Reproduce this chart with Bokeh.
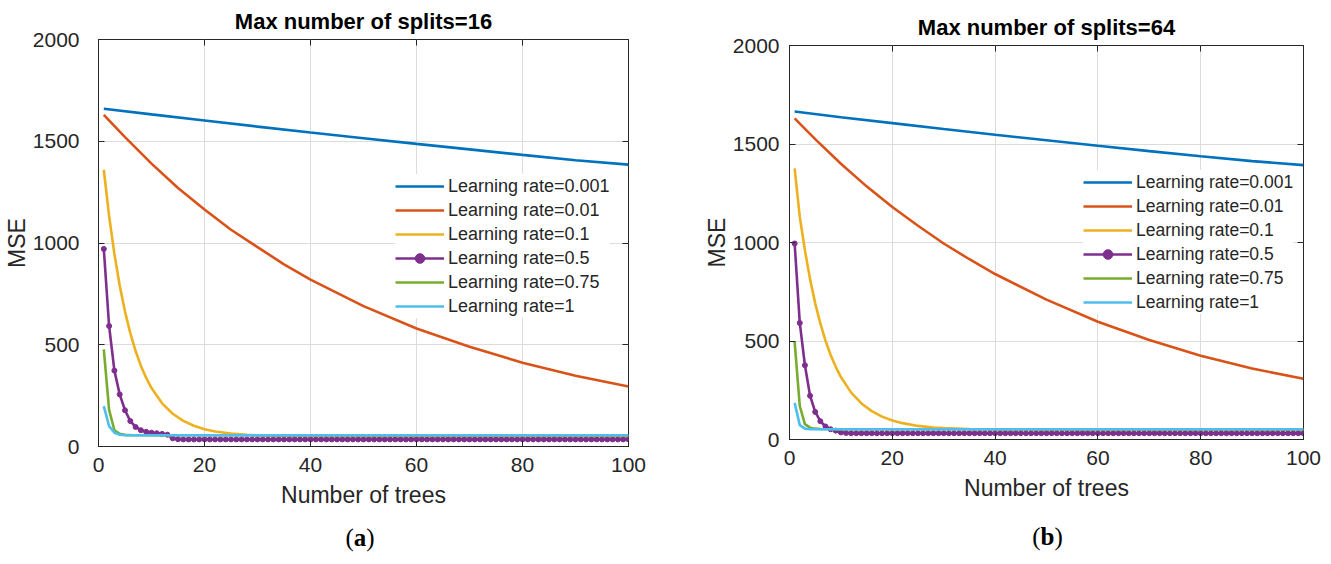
from bokeh.plotting import figure
from bokeh.models import Range1d, LinearAxis, FixedTicker, Legend, LegendItem, Div
from bokeh.layouts import row, column
from bokeh.embed import file_html
from bokeh.resources import INLINE

# ---------------- data ----------------
series_labels = ["Learning rate=0.001", "Learning rate=0.01", "Learning rate=0.1",
                 "Learning rate=0.5", "Learning rate=0.75", "Learning rate=1"]
colors = ["#0072BD", "#D95319", "#EDB120", "#7E2F8E", "#77AC30", "#4DBEEE"]
x_ticks = [0, 20, 40, 60, 80, 100]
y_ticks = [0, 500, 1000, 1500, 2000]

# (a) Max number of splits = 16
a_x_lr001 = [1, 10, 20, 30, 40, 50, 60, 70, 80, 90, 100]
a_y_lr001 = [1660, 1632, 1602, 1572, 1543, 1515, 1487, 1460, 1433, 1407, 1385]
a_x_lr01 = [1, 5, 10, 15, 20, 25, 30, 35, 40, 50, 60, 70, 80, 90, 100]
a_y_lr01 = [1630, 1520, 1390, 1270, 1165, 1065, 980, 895, 820, 690, 580, 490, 412, 348, 295]
a_x_lr1 = [1, 2, 3, 4, 5, 6, 7, 8, 9, 10, 12, 14, 16, 18, 20, 22, 25, 28, 30, 35, 40, 50, 60, 70, 80, 90, 100]
a_y_lr1 = [1360, 1133, 946, 791, 663, 557, 469, 396, 337, 287, 212, 161, 126, 102, 85, 74, 64, 58, 55, 52, 51,
           50, 50, 50, 50, 50, 50]
a_x_lr5 = list(range(1, 101))
a_y_lr5 = [971, 592, 373, 256, 178, 125, 96, 80, 72, 68, 65, 62, 58, 40, 36, 35, 35, 35, 35, 35,
           35, 35, 35, 35, 35, 35, 35, 35, 35, 35, 35, 35, 35, 35, 35, 35, 35, 35, 35, 35,
           35, 35, 35, 35, 35, 35, 35, 35, 35, 35, 35, 35, 35, 35, 35, 35, 35, 35, 35, 35,
           35, 35, 35, 35, 35, 35, 35, 35, 35, 35, 35, 35, 35, 35, 35, 35, 35, 35, 35, 35,
           35, 35, 35, 35, 35, 35, 35, 35, 35, 35, 35, 35, 35, 35, 35, 35, 35, 35, 35, 35]
a_x_lr75 = [1, 2, 3, 4, 5, 6, 10, 20, 30, 40, 50, 60, 70, 80, 90, 100]
a_y_lr75 = [477, 180, 80, 62, 57, 56, 55, 55, 55, 55, 55, 55, 55, 55, 55, 55]
a_x_lr100 = [1, 2, 3, 4, 5, 6, 10, 20, 30, 40, 50, 60, 70, 80, 90, 100]
a_y_lr100 = [198, 100, 68, 58, 56, 55, 55, 55, 55, 55, 55, 55, 55, 55, 55, 55]

# (b) Max number of splits = 64
b_x_lr001 = [1, 10, 20, 30, 40, 50, 60, 70, 80, 90, 100]
b_y_lr001 = [1665, 1636, 1606, 1576, 1547, 1519, 1491, 1464, 1438, 1413, 1393]
b_x_lr01 = [1, 5, 10, 15, 20, 25, 30, 35, 40, 50, 60, 70, 80, 90, 100]
b_y_lr01 = [1630, 1525, 1400, 1285, 1180, 1085, 995, 915, 840, 710, 598, 505, 425, 360, 308]
b_x_lr1 = [1, 2, 3, 4, 5, 6, 7, 8, 9, 10, 12, 14, 16, 18, 20, 22, 25, 28, 30, 35, 40, 50, 60, 70, 80, 90, 100]
b_y_lr1 = [1376, 1130, 960, 814, 691, 589, 502, 429, 369, 317, 238, 183, 144, 116, 96, 83, 69, 61, 58, 53, 51,
           50, 50, 50, 50, 50, 50]
b_x_lr5 = list(range(1, 101))
b_y_lr5 = [995, 592, 377, 222, 140, 93, 66, 52, 45, 36, 33, 32, 32, 32, 32, 32, 32, 32, 32, 32,
           32, 32, 32, 32, 32, 32, 32, 32, 32, 32, 32, 32, 32, 32, 32, 32, 32, 32, 32, 32,
           32, 32, 32, 32, 32, 32, 32, 32, 32, 32, 32, 32, 32, 32, 32, 32, 32, 32, 32, 32,
           32, 32, 32, 32, 32, 32, 32, 32, 32, 32, 32, 32, 32, 32, 32, 32, 32, 32, 32, 32,
           32, 32, 32, 32, 32, 32, 32, 32, 32, 32, 32, 32, 32, 32, 32, 32, 32, 32, 32, 32]
b_x_lr75 = [1, 2, 3, 4, 5, 6, 10, 20, 30, 40, 50, 60, 70, 80, 90, 100]
b_y_lr75 = [496, 170, 78, 60, 55, 53, 52, 52, 52, 52, 52, 52, 52, 52, 52, 52]
b_x_lr100 = [1, 2, 3, 4, 5, 6, 10, 20, 30, 40, 50, 60, 70, 80, 90, 100]
b_y_lr100 = [186, 73, 55, 52, 52, 52, 52, 52, 52, 52, 52, 52, 52, 52, 52, 52]

FONT = "Liberation Sans"
DARK = "#262626"


def make_panel(title, series, fw, fh, mb_left, mb_right, mb_top, mb_bottom,
               ylab_standoff, legend_loc, legend_font):
    p = figure(frame_width=fw, frame_height=fh, output_backend="svg", toolbar_location=None,
               x_range=Range1d(0, 100), y_range=Range1d(0, 2000),
               min_border_left=mb_left, min_border_right=mb_right,
               min_border_top=mb_top, min_border_bottom=mb_bottom,
               background_fill_color="white", border_fill_color="white")
    p.title.text = title
    p.title.align = "center"
    p.title.text_font = FONT
    p.title.text_font_size = "22px"
    p.title.text_font_style = "bold"
    p.title.text_color = "black"
    p.title.standoff = 12

    p.outline_line_color = DARK
    p.outline_line_alpha = 1.0
    p.outline_line_width = 1

    for ax, ticks in ((p.xaxis[0], x_ticks), (p.yaxis[0], y_ticks)):
        ax.ticker = FixedTicker(ticks=ticks)
        ax.major_tick_in = 6
        ax.major_tick_out = 0
        ax.minor_tick_out = 0
        ax.minor_tick_line_color = None
        ax.axis_line_color = DARK
        ax.major_tick_line_color = DARK
        ax.major_label_text_font = FONT
        ax.major_label_text_font_size = "21px"
        ax.major_label_text_color = DARK
        ax.axis_label_text_font = FONT
        ax.axis_label_text_font_size = "23px"
        ax.axis_label_text_font_style = "normal"
        ax.axis_label_text_color = DARK
    p.xaxis[0].axis_label = "Number of trees"
    p.xaxis[0].major_label_standoff = 11
    p.xaxis[0].axis_label_standoff = 7
    p.yaxis[0].axis_label = "MSE"
    p.yaxis[0].major_label_standoff = ylab_standoff
    p.yaxis[0].axis_label_standoff = 0

    # box ticks on top and right (no labels)
    for side, ticks in (("above", x_ticks), ("right", y_ticks)):
        ax = LinearAxis(ticker=FixedTicker(ticks=ticks), major_label_text_font_size="1px",
                        major_label_text_alpha=0, major_tick_in=6, major_tick_out=0,
                        minor_tick_in=0, minor_tick_out=0, minor_tick_line_color=None,
                        axis_line_color=None, major_tick_line_color=DARK, major_label_standoff=0)
        p.add_layout(ax, side)

    p.xgrid.ticker = FixedTicker(ticks=x_ticks)
    p.ygrid.ticker = FixedTicker(ticks=y_ticks)
    p.xgrid.grid_line_color = "#dcdcdc"
    p.ygrid.grid_line_color = "#dcdcdc"

    items = []
    for i, (xs, ys) in enumerate(series):
        rs = [p.line(xs, ys, line_color=colors[i], line_width=2.6)]
        if i == 3:
            rs.append(p.scatter(xs, ys, size=5, marker="circle", fill_color=colors[i], line_color=colors[i]))
        items.append(LegendItem(label=series_labels[i], renderers=rs))

    legend = Legend(items=items, location=legend_loc, padding=4, spacing=0, margin=0,
                    glyph_width=49, glyph_height=24, label_height=24, label_standoff=4,
                    label_text_font=FONT, label_text_font_size=legend_font, label_text_color=DARK,
                    border_line_color=None, background_fill_color="white", background_fill_alpha=1.0)
    p.add_layout(legend)
    return p


def caption(letter, width, shift):
    return Div(text=f'<span style="position:relative; left:{shift}px">(<b>{letter}</b>)</span>',
               width=width, height=32,
               styles={"text-align": "center", "font-family": "Liberation Serif", "font-size": "25px",
                       "line-height": "32px", "color": "black"})


series_a = [(a_x_lr001, a_y_lr001), (a_x_lr01, a_y_lr01), (a_x_lr1, a_y_lr1),
            (a_x_lr5, a_y_lr5), (a_x_lr75, a_y_lr75), (a_x_lr100, a_y_lr100)]
series_b = [(b_x_lr001, b_y_lr001), (b_x_lr01, b_y_lr01), (b_x_lr1, b_y_lr1),
            (b_x_lr5, b_y_lr5), (b_x_lr75, b_y_lr75), (b_x_lr100, b_y_lr100)]

pa = make_panel("Max number of splits=16", series_a, 530, 407, 94, 66, 38, 71, 19, (297, 128), "18px")
pb = make_panel("Max number of splits=64", series_b, 514, 394, 87, 24, 45, 77, 10, (294, 125), "17.5px")

layout = row(column(pa, caption("a", 690, 10)), column(pb, caption("b", 625, 30)))
open("out.html", "w").write(file_html(layout, INLINE))
